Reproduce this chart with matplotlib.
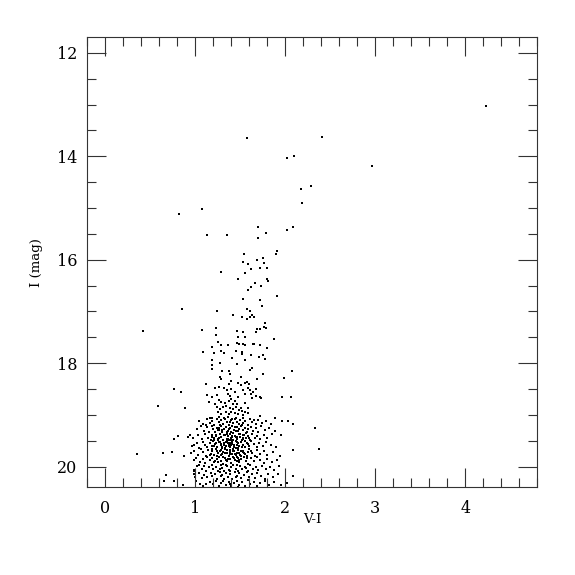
import matplotlib
matplotlib.use("Agg")
import matplotlib.pyplot as plt
from matplotlib.ticker import MultipleLocator

# bright stars / upper giant branch (V-I, I)
bright = [(4.227, 13.02), (2.965, 14.19), (2.405, 13.63), (1.577, 13.65),
          (2.022, 14.03), (2.10, 13.99), (2.29, 14.57), (2.17, 14.64), (2.19, 14.90),
          (0.816, 15.12), (1.076, 15.02), (1.125, 15.52), (1.354, 15.53),
          (1.70, 15.37), (1.785, 15.49), (1.696, 15.58), (2.02, 15.42), (2.09, 15.37),
          (1.907, 15.83), (1.90, 15.89), (1.54, 15.88), (1.53, 16.04), (1.588, 16.08),
          (1.685, 16.00), (1.755, 15.96), (1.766, 16.06), (1.718, 16.16), (1.793, 16.16),
          (1.62, 16.17), (1.55, 16.25), (1.80, 16.38), (1.28, 16.24), (1.477, 16.37)]

# red giant branch 16.4 - 17.7
rgb_upper = [(1.81, 16.42), (1.66, 16.45), (1.733, 16.51), (1.62, 16.53), (1.58, 16.59),
             (1.908, 16.70), (1.53, 16.76), (1.715, 16.77), (1.744, 16.89), (1.57, 16.95),
             (1.604, 16.99), (1.63, 17.06), (1.518, 17.11), (1.57, 17.14), (1.607, 17.11),
             (1.648, 17.11), (1.77, 17.23), (1.685, 17.34), (1.715, 17.33), (1.763, 17.30),
             (1.785, 17.32), (1.67, 17.39), (1.529, 17.40), (1.55, 17.49), (1.877, 17.54),
             (1.637, 17.62), (1.648, 17.63), (1.718, 17.64), (1.525, 17.63), (1.548, 17.65),
             (1.80, 17.70), (0.846, 16.95), (1.236, 17.00), (1.414, 17.06), (1.069, 17.35),
             (1.228, 17.31), (1.466, 17.37), (1.228, 17.46), (1.477, 17.50), (1.25, 17.59),
             (1.288, 17.64), (1.362, 17.64), (1.462, 17.60), (1.484, 17.63), (1.184, 17.68),
             (0.415, 17.38)]

# 17.7 - 19.1
rgb_mid = [(1.083, 17.79), (1.21, 17.81), (1.288, 17.77), (1.318, 17.81), (1.455, 17.77),
           (1.19, 17.93), (1.277, 17.99), (1.41, 17.89), (1.459, 18.01), (1.184, 18.04),
           (1.19, 18.12), (1.30, 18.15), (1.37, 18.16), (1.384, 18.21), (1.27, 18.27),
           (1.284, 18.30), (1.40, 18.35), (1.37, 18.41), (1.117, 18.41), (1.473, 18.39),
           (0.76, 18.49), (0.839, 18.56), (1.217, 18.48), (1.265, 18.47), (1.318, 18.48),
           (1.35, 18.51), (1.40, 18.50), (1.13, 18.61), (1.19, 18.65), (1.243, 18.61),
           (1.359, 18.59), (1.39, 18.63), (1.44, 18.56), (1.477, 18.65), (1.154, 18.75),
           (1.214, 18.78), (1.258, 18.72), (1.288, 18.76), (1.328, 18.77), (1.37, 18.73),
           (1.40, 18.70), (1.418, 18.78), (1.44, 18.74), (1.466, 18.79), (0.89, 18.87),
           (1.236, 18.84), (1.27, 18.88), (1.306, 18.85), (1.343, 18.83), (1.388, 18.86),
           (1.421, 18.88), (1.451, 18.85), (1.481, 18.90), (1.25, 18.95), (1.288, 18.98),
           (1.336, 18.95), (1.373, 18.98), (1.395, 18.95), (1.44, 18.96), (1.473, 18.99),
           (1.165, 19.06), (1.19, 19.06), (1.262, 19.05), (1.32, 19.06), (1.36, 19.04),
           (1.406, 19.07), (1.455, 19.06), (0.58, 18.83),
           (1.518, 17.79), (1.52, 17.83), (1.62, 17.85), (1.71, 17.88), (1.755, 17.85),
           (1.777, 17.92), (1.548, 17.94), (1.63, 18.09), (1.607, 18.14), (2.075, 18.16),
           (1.752, 18.21), (1.507, 18.27), (1.982, 18.28), (1.688, 18.31), (1.57, 18.36),
           (1.596, 18.41), (1.548, 18.38), (1.507, 18.43), (1.585, 18.48), (1.67, 18.50),
           (1.525, 18.52), (1.61, 18.52), (1.644, 18.55), (1.618, 18.59), (1.548, 18.60),
           (1.67, 18.63), (1.718, 18.66), (1.73, 18.68), (1.63, 18.68), (1.963, 18.66),
           (2.06, 18.65), (1.548, 18.77), (1.507, 18.87), (1.588, 18.87), (1.518, 18.92),
           (1.548, 18.95), (1.585, 18.97), (1.532, 19.01), (1.715, 19.02), (1.525, 19.06),
           (1.655, 19.10), (1.885, 19.06)]

# faint part 19.1 - 20.4
faint_a = [(1.04, 19.12), (1.09, 19.18), (1.13, 19.08), (1.16, 19.15), (1.19, 19.11),
           (1.21, 19.19), (1.24, 19.07), (1.26, 19.14), (1.28, 19.10), (1.31, 19.17),
           (1.33, 19.08), (1.35, 19.13), (1.37, 19.19), (1.40, 19.10), (1.42, 19.16),
           (1.44, 19.07), (1.46, 19.13), (1.48, 19.18), (1.50, 19.09), (1.53, 19.15),
           (1.55, 19.11), (1.58, 19.19), (1.61, 19.08), (1.63, 19.14), (1.67, 19.17),
           (1.70, 19.10), (1.74, 19.15), (1.79, 19.12), (1.84, 19.18), (1.27, 19.19),
           (1.39, 19.14), (1.52, 19.20), (1.12, 19.20), (1.96, 19.12), (2.03, 19.12),
           (2.09, 19.18),
           (1.02, 19.27), (1.06, 19.22), (1.10, 19.31), (1.13, 19.24), (1.15, 19.33),
           (1.18, 19.21), (1.20, 19.28), (1.22, 19.34), (1.24, 19.25), (1.26, 19.30),
           (1.28, 19.22), (1.30, 19.33), (1.32, 19.27), (1.34, 19.23), (1.36, 19.31),
           (1.38, 19.26), (1.40, 19.34), (1.41, 19.21), (1.43, 19.29), (1.45, 19.24),
           (1.47, 19.32), (1.49, 19.27), (1.51, 19.22), (1.53, 19.30), (1.55, 19.25),
           (1.57, 19.34), (1.59, 19.28), (1.62, 19.23), (1.64, 19.31), (1.67, 19.26),
           (1.70, 19.33), (1.73, 19.22), (1.77, 19.29), (1.82, 19.25), (1.88, 19.31),
           (1.35, 19.34), (1.46, 19.23), (1.25, 19.29), (2.33, 19.25)]

faint_b = [(0.97, 19.45), (1.03, 19.39), (1.07, 19.47), (1.11, 19.37), (1.14, 19.44),
           (1.17, 19.49), (1.19, 19.38), (1.21, 19.45), (1.23, 19.41), (1.25, 19.48),
           (1.27, 19.36), (1.29, 19.43), (1.31, 19.49), (1.33, 19.39), (1.35, 19.46),
           (1.36, 19.41), (1.38, 19.37), (1.40, 19.44), (1.42, 19.49), (1.44, 19.40),
           (1.46, 19.46), (1.48, 19.36), (1.50, 19.43), (1.52, 19.48), (1.54, 19.39),
           (1.56, 19.45), (1.58, 19.41), (1.61, 19.48), (1.63, 19.37), (1.66, 19.44),
           (1.69, 19.40), (1.72, 19.47), (1.76, 19.38), (1.80, 19.45), (1.85, 19.37),
           (1.95, 19.39), (1.37, 19.48), (1.45, 19.43), (1.26, 19.44), (1.53, 19.44),
           (1.18, 19.42), (1.41, 19.40), (0.94, 19.39), (0.92, 19.43), (0.757, 19.47),
           (0.805, 19.41),
           (0.96, 19.60), (0.99, 19.59), (1.02, 19.55), (1.04, 19.64), (1.08, 19.52),
           (1.11, 19.58), (1.13, 19.63), (1.16, 19.54), (1.18, 19.60), (1.20, 19.51),
           (1.22, 19.57), (1.24, 19.63), (1.26, 19.53), (1.28, 19.59), (1.30, 19.64),
           (1.32, 19.55), (1.34, 19.61), (1.35, 19.51), (1.37, 19.57), (1.39, 19.63),
           (1.41, 19.53), (1.43, 19.59), (1.45, 19.64), (1.47, 19.55), (1.49, 19.61),
           (1.51, 19.52), (1.53, 19.58), (1.55, 19.63), (1.57, 19.54), (1.60, 19.60),
           (1.62, 19.51), (1.65, 19.57), (1.68, 19.63), (1.71, 19.54), (1.75, 19.60),
           (1.79, 19.52), (1.84, 19.58), (1.90, 19.62), (2.09, 19.68), (2.375, 19.65),
           (1.29, 19.56), (1.40, 19.58), (1.46, 19.52), (1.33, 19.64), (1.21, 19.61),
           (1.52, 19.62), (1.58, 19.57), (1.36, 19.55)]

faint_c = [(0.95, 19.73), (0.99, 19.69), (1.03, 19.77), (1.06, 19.66), (1.09, 19.72),
           (1.12, 19.79), (1.14, 19.68), (1.17, 19.75), (1.19, 19.70), (1.21, 19.78),
           (1.23, 19.66), (1.25, 19.73), (1.27, 19.69), (1.29, 19.77), (1.31, 19.71),
           (1.33, 19.66), (1.35, 19.74), (1.37, 19.79), (1.39, 19.68), (1.41, 19.75),
           (1.43, 19.70), (1.45, 19.78), (1.47, 19.67), (1.49, 19.73), (1.51, 19.79),
           (1.53, 19.69), (1.55, 19.76), (1.58, 19.71), (1.60, 19.66), (1.63, 19.74),
           (1.66, 19.79), (1.69, 19.68), (1.72, 19.75), (1.76, 19.70), (1.80, 19.77),
           (1.86, 19.72), (1.944, 19.79), (1.30, 19.75), (1.38, 19.72), (1.46, 19.74),
           (1.24, 19.70), (1.54, 19.73), (1.16, 19.78), (1.42, 19.66), (0.356, 19.75),
           (0.635, 19.73), (0.738, 19.72), (0.872, 19.80),
           (0.98, 19.88), (1.01, 19.83), (1.05, 19.91), (1.08, 19.85), (1.11, 19.93),
           (1.13, 19.81), (1.16, 19.88), (1.19, 19.84), (1.21, 19.92), (1.24, 19.86),
           (1.26, 19.81), (1.28, 19.89), (1.31, 19.94), (1.33, 19.83), (1.35, 19.90),
           (1.38, 19.85), (1.40, 19.93), (1.42, 19.82), (1.44, 19.88), (1.47, 19.84),
           (1.49, 19.92), (1.51, 19.86), (1.54, 19.81), (1.56, 19.89), (1.59, 19.94),
           (1.62, 19.84), (1.65, 19.90), (1.68, 19.82), (1.72, 19.88), (1.76, 19.93),
           (1.80, 19.85), (1.855, 19.92), (1.91, 19.87), (1.34, 19.87), (1.46, 19.90),
           (1.22, 19.89), (1.57, 19.83)]

faint_d = [(0.99, 20.06), (1.02, 19.99), (1.04, 19.97), (1.07, 20.04), (1.10, 19.98),
           (1.12, 20.08), (1.15, 20.01), (1.18, 19.96), (1.20, 20.05), (1.23, 20.00),
           (1.25, 20.09), (1.28, 19.97), (1.30, 20.03), (1.32, 20.08), (1.35, 19.99),
           (1.37, 20.06), (1.40, 20.01), (1.42, 19.96), (1.45, 20.04), (1.47, 20.09),
           (1.50, 19.98), (1.52, 20.05), (1.55, 20.00), (1.58, 20.08), (1.61, 19.97),
           (1.64, 20.04), (1.67, 20.00), (1.70, 20.07), (1.74, 19.98), (1.78, 20.05),
           (1.83, 20.01), (1.87, 20.06), (1.93, 19.99), (1.38, 20.09), (1.27, 20.05),
           (1.56, 20.03), (0.987, 20.09),
           (0.98, 20.14), (1.00, 20.20), (1.04, 20.12), (1.07, 20.22), (1.10, 20.16),
           (1.125, 20.20), (1.17, 20.12), (1.19, 20.19), (1.22, 20.14), (1.24, 20.23),
           (1.27, 20.11), (1.29, 20.18), (1.32, 20.24), (1.34, 20.13), (1.36, 20.20),
           (1.39, 20.15), (1.41, 20.23), (1.44, 20.11), (1.46, 20.18), (1.49, 20.13),
           (1.51, 20.22), (1.54, 20.16), (1.57, 20.11), (1.60, 20.20), (1.63, 20.14),
           (1.66, 20.22), (1.69, 20.12), (1.73, 20.18), (1.77, 20.24), (1.81, 20.14),
           (1.86, 20.20), (1.92, 20.15), (2.08, 20.19), (1.30, 20.16), (1.45, 20.21),
           (0.67, 20.17),
           (0.65, 20.28), (0.757, 20.28), (0.86, 20.36), (1.01, 20.27), (1.05, 20.33),
           (1.09, 20.38), (1.117, 20.33), (1.16, 20.30), (1.198, 20.34), (1.23, 20.28),
           (1.26, 20.37), (1.28, 20.31), (1.31, 20.27), (1.34, 20.35), (1.37, 20.29),
           (1.40, 20.38), (1.43, 20.32), (1.46, 20.27), (1.49, 20.36), (1.52, 20.30),
           (1.55, 20.38), (1.58, 20.26), (1.61, 20.33), (1.65, 20.29), (1.68, 20.37),
           (1.72, 20.31), (1.777, 20.28), (1.82, 20.35), (1.87, 20.30), (1.95, 20.36),
           (2.02, 20.32), (1.38, 20.33), (1.47, 20.39)]

# extra stars in the crowded core of the faint clump
core = [(1.263, 19.247), (1.318, 19.392), (1.341, 19.517), (1.372, 19.604),
        (1.386, 19.758), (1.427, 19.838), (1.447, 19.318), (1.468, 19.433),
        (1.509, 19.531), (1.284, 19.686), (1.305, 19.812), (1.352, 19.339),
        (1.364, 19.471), (1.411, 19.566), (1.421, 19.702), (1.466, 19.806),
        (1.497, 19.371), (1.526, 19.462), (1.292, 19.615), (1.328, 19.735),
        (1.357, 19.853), (1.377, 19.271), (1.404, 19.418), (1.451, 19.507),
        (1.474, 19.648), (1.493, 19.781), (1.256, 19.904), (1.436, 19.232),
        (1.355, 19.377), (1.397, 19.482), (1.428, 19.626), (1.442, 19.749),
        (1.483, 19.871), (1.247, 19.466), (1.314, 19.573), (1.534, 19.714),
        (1.563, 19.352), (1.546, 19.508), (1.233, 19.382), (1.226, 19.542),
        (1.572, 19.793), (1.338, 19.961), (1.462, 19.976), (1.186, 19.662),
        (1.597, 19.437), (1.301, 19.289), (1.418, 19.353), (1.389, 19.537),
        (1.274, 19.519), (1.503, 19.689), (1.348, 19.676), (1.458, 19.583),
        (1.529, 19.397), (1.239, 19.791), (1.615, 19.703), (1.205, 19.487)]

groups = [bright, rgb_upper, rgb_mid, faint_a, faint_b, faint_c, faint_d, core]

plt.rcParams['font.family'] = 'DejaVu Serif'

fig = plt.figure(figsize=(5.75, 5.75), dpi=100)
ax = fig.add_axes([0.152, 0.1525, 0.7825, 0.7825])

for g in groups:
    xs = [p[0] for p in g]
    ys = [p[1] for p in g]
    ax.scatter(xs, ys, s=2.6, marker='s', color='black', linewidths=0)

ax.set_xlim(-0.2, 4.8)
ax.set_ylim(20.4, 11.7)
ax.xaxis.set_major_locator(MultipleLocator(1))
ax.xaxis.set_minor_locator(MultipleLocator(0.2))
ax.yaxis.set_major_locator(MultipleLocator(2))
ax.yaxis.set_minor_locator(MultipleLocator(0.5))

ax.tick_params(which='both', direction='in', top=True, right=True,
               color='#333333', width=0.8)
ax.tick_params(which='major', length=13.5, labelsize=11.5)
ax.tick_params(which='minor', length=6.5)
ax.tick_params(axis='x', which='major', pad=9)
ax.tick_params(axis='y', which='major', pad=7)
for sp in ax.spines.values():
    sp.set_color('#333333')
    sp.set_linewidth(0.8)

ax.set_xlabel('V-I', fontsize=9.5, labelpad=-3)
ax.set_ylabel('I (mag)', fontsize=9.5, labelpad=10)

fig.savefig('out.png', dpi=100)
